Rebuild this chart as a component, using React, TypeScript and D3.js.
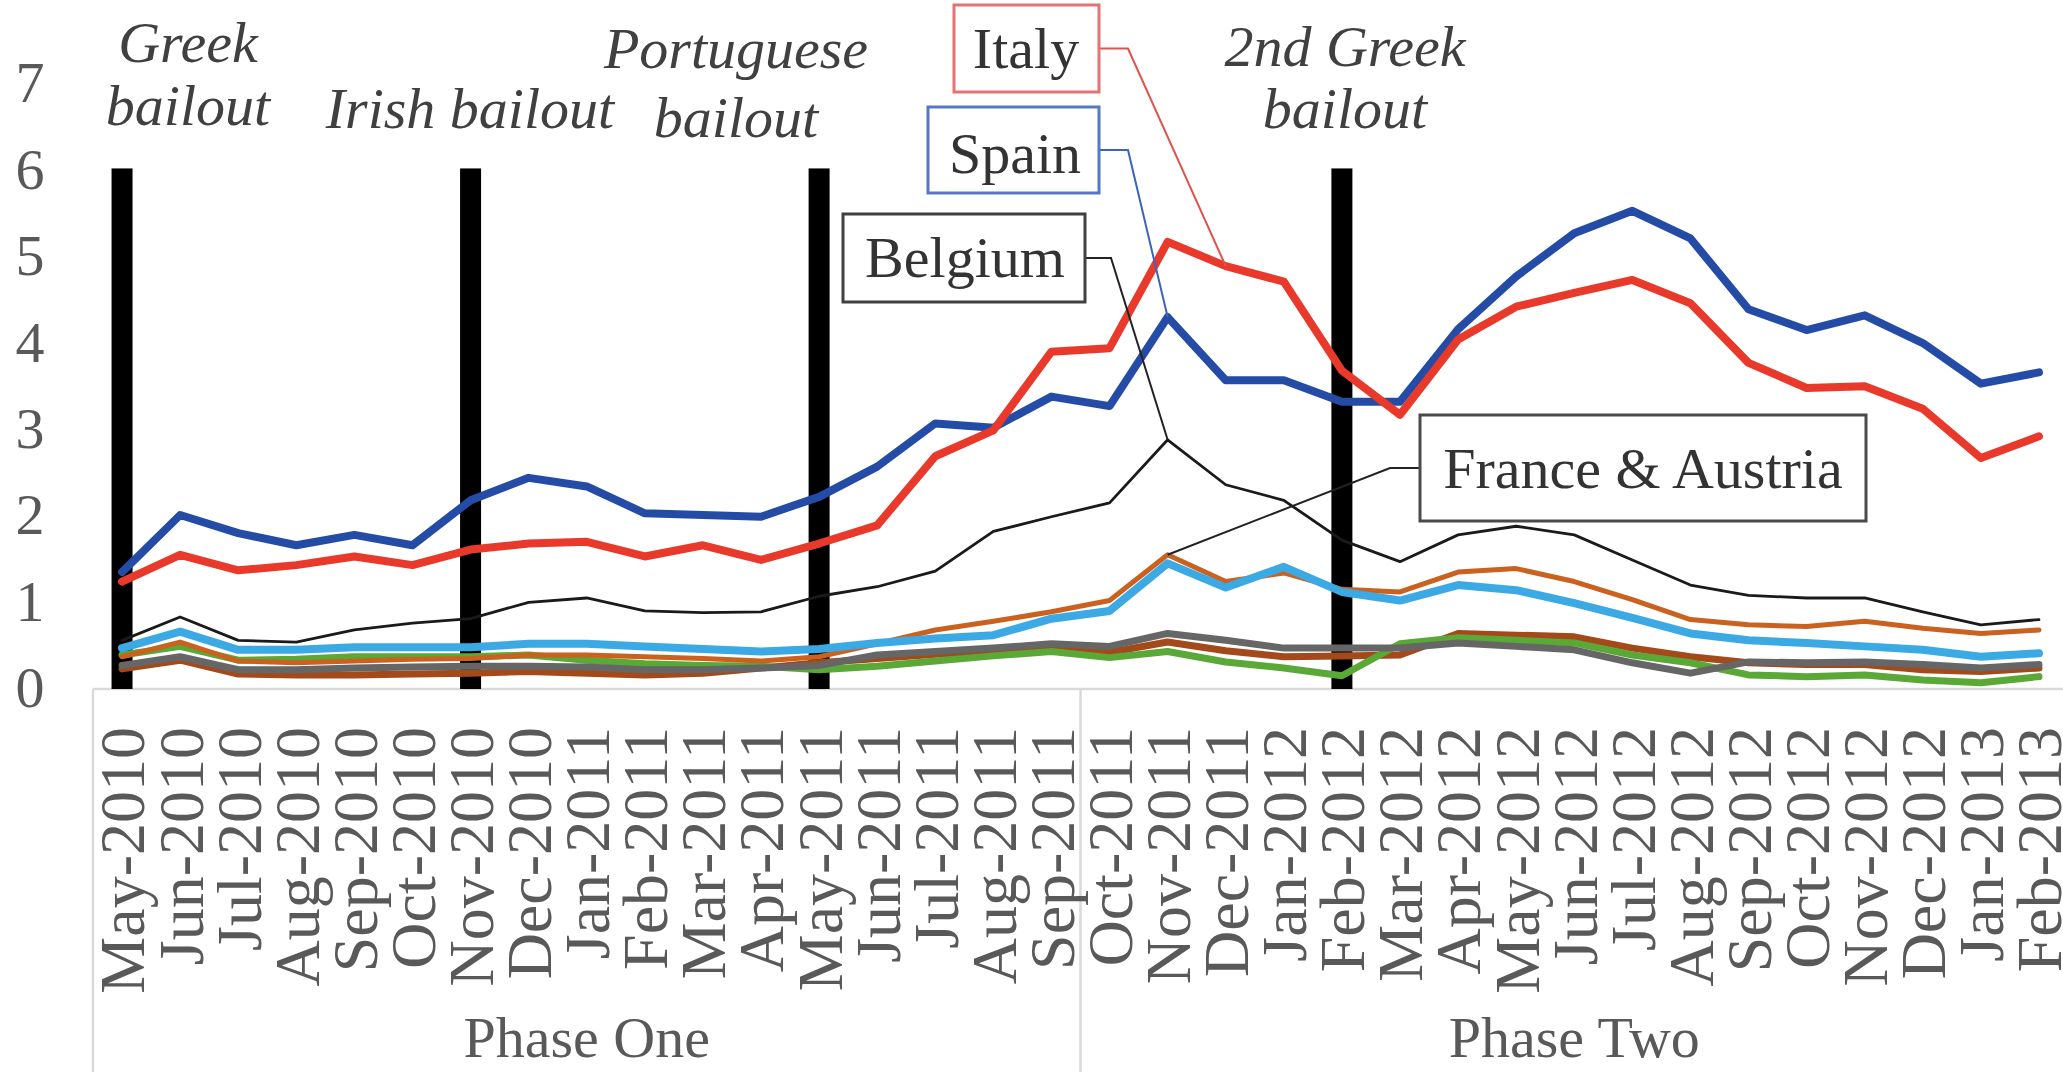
import React from "react";
import * as d3 from "d3";

const categories = [
  "May-2010","Jun-2010","Jul-2010","Aug-2010","Sep-2010","Oct-2010","Nov-2010","Dec-2010",
  "Jan-2011","Feb-2011","Mar-2011","Apr-2011","May-2011","Jun-2011","Jul-2011","Aug-2011","Sep-2011",
  "Oct-2011","Nov-2011","Dec-2011","Jan-2012","Feb-2012","Mar-2012","Apr-2012","May-2012","Jun-2012",
  "Jul-2012","Aug-2012","Sep-2012","Oct-2012","Nov-2012","Dec-2012","Jan-2013","Feb-2013",
];

const phaseNames = ["Phase One", "Phase Two"];
const phaseSizes = [17, 17];

const yTicks = [0, 1, 2, 3, 4, 5, 6, 7];

const spain = [1.33,1.99,1.78,1.64,1.76,1.64,2.16,2.42,2.32,2.01,1.99,1.97,2.2,2.55,3.05,3.0,3.36,3.25,4.28,3.55,3.55,3.3,3.3,4.14,4.75,5.25,5.51,5.19,4.37,4.13,4.3,3.98,3.51,3.64];
const italy = [1.22,1.53,1.35,1.41,1.51,1.41,1.59,1.66,1.68,1.51,1.64,1.47,1.66,1.87,2.67,2.97,3.88,3.92,5.15,4.87,4.69,3.66,3.15,4.02,4.4,4.56,4.71,4.44,3.75,3.46,3.48,3.22,2.65,2.9];
const belgium = [0.54,0.81,0.54,0.52,0.66,0.74,0.79,0.98,1.03,0.88,0.86,0.87,1.05,1.16,1.34,1.8,1.97,2.13,2.86,2.34,2.16,1.7,1.45,1.76,1.86,1.76,1.47,1.18,1.06,1.03,1.03,0.87,0.72,0.78];
const france = [0.35,0.52,0.3,0.28,0.3,0.32,0.33,0.37,0.37,0.35,0.33,0.3,0.35,0.5,0.66,0.76,0.87,1.0,1.53,1.22,1.32,1.13,1.1,1.33,1.37,1.22,1.01,0.78,0.72,0.7,0.76,0.68,0.62,0.66];
const austria = [0.45,0.64,0.43,0.43,0.46,0.46,0.46,0.5,0.5,0.47,0.44,0.41,0.44,0.51,0.56,0.6,0.79,0.88,1.43,1.15,1.39,1.1,1.0,1.18,1.12,0.97,0.8,0.62,0.54,0.51,0.47,0.43,0.35,0.39];
const grey = [0.25,0.35,0.2,0.2,0.22,0.23,0.24,0.24,0.23,0.2,0.2,0.22,0.25,0.37,0.41,0.45,0.5,0.47,0.62,0.54,0.45,0.45,0.45,0.51,0.47,0.43,0.28,0.16,0.29,0.28,0.29,0.26,0.22,0.26];
const green = [0.37,0.47,0.31,0.32,0.35,0.35,0.35,0.37,0.31,0.27,0.25,0.24,0.2,0.24,0.3,0.36,0.41,0.34,0.41,0.29,0.22,0.13,0.5,0.57,0.54,0.51,0.37,0.28,0.14,0.12,0.14,0.08,0.05,0.12];
const brown = [0.21,0.31,0.15,0.14,0.14,0.15,0.16,0.18,0.16,0.14,0.16,0.22,0.28,0.33,0.38,0.42,0.45,0.4,0.52,0.42,0.35,0.36,0.37,0.62,0.6,0.58,0.45,0.35,0.28,0.26,0.26,0.2,0.18,0.22];

const bailoutCats = ["May-2010", "Nov-2010", "May-2011", "Feb-2012"];
const bailoutHeight = 6;
const bailoutLabels = [["Greek", "bailout"], ["Irish bailout"], ["Portuguese", "bailout"], ["2nd Greek", "bailout"]];

const seriesDefs = [
  { name: "Brown", values: brown, color: "#a4491a", width: 7 },
  { name: "Green", values: green, color: "#5aa836", width: 7 },
  { name: "Grey", values: grey, color: "#666666", width: 7 },
  { name: "France", values: france, color: "#cb611f", width: 5 },
  { name: "Austria", values: austria, color: "#3ba9e4", width: 8 },
  { name: "Spain", values: spain, color: "#244ca6", width: 8 },
  { name: "Italy", values: italy, color: "#e8392b", width: 8 },
  { name: "Belgium", values: belgium, color: "#1a1a1a", width: 2.8 },
];

// layout (pixel positions of text/callouts)
const annotLayout = [
  { x: 188, ys: [62, 125] },
  { x: 470, ys: [128] },
  { x: 736, ys: [68, 137] },
  { x: 1345, ys: [66, 128] },
];

const callouts = [
  { label: "Italy", series: italy, cat: "Dec-2011", box: [954, 5, 145, 87], text: [1026, 68], border: "#e57373", leader: "#e0524a", elbowX: 1128, side: "right" },
  { label: "Spain", series: spain, cat: "Nov-2011", box: [928, 107, 171, 86], text: [1015, 173], border: "#5677c4", leader: "#3d63bd", elbowX: 1128, side: "right" },
  { label: "Belgium", series: belgium, cat: "Nov-2011", box: [843, 214, 242, 88], text: [965, 277], border: "#404040", leader: "#222222", elbowX: 1111, side: "right" },
  { label: "France & Austria", series: france, cat: "Nov-2011", box: [1420, 415, 446, 106], text: [1643, 488], border: "#4a4a4a", leader: "#222222", elbowX: 1390, side: "left" },
];

export default function App() {
  const W = 2063, H = 1072;
  const x = d3.scaleBand<string>().domain(categories).range([93, 2068]).paddingInner(0).paddingOuter(0);
  const bw = x.bandwidth();
  const cx = (c: string) => (x(c) as number) + bw / 2;
  const y = d3.scaleLinear().domain([0, 7]).range([687, 82]);
  const line = d3.line<number>().x((_, i) => cx(categories[i])).y((v) => y(v));

  const axisY = 689;
  const serif = "Liberation Serif, Times New Roman, DejaVu Serif, serif";
  const fs = 58;
  const txt = { fontFamily: serif };

  const phaseStarts: number[] = [];
  let acc = 0;
  phaseSizes.forEach((n) => { phaseStarts.push(acc); acc += n; });

  return (
    <svg width={W} height={H} style={{ position: "absolute", left: 0, top: 0, background: "#fff", fontFamily: serif }}>
      <rect x={0} y={0} width={W} height={H} fill="#fff" />
      {yTicks.map((t) => (
        <text key={t} x={30} y={y(t)} dy="0.35em" textAnchor="middle" fontSize={fs} fill="#595959" style={txt}>{t}</text>
      ))}
      <line x1={93} x2={W} y1={axisY} y2={axisY} stroke="#d9d9d9" strokeWidth={2.5} />
      {phaseStarts.map((s, i) => {
        const xl = x(categories[s]) as number;
        return <line key={i} x1={xl} x2={xl} y1={axisY} y2={H} stroke="#d9d9d9" strokeWidth={2.5} />;
      })}
      {categories.map((c) => (
        <text key={c} transform={`translate(${cx(c)},727) rotate(-90)`} dy="0.35em" textAnchor="end" fontSize={64} fill="#595959" style={txt}>{c}</text>
      ))}
      {phaseNames.map((p, i) => {
        const s = phaseStarts[i];
        const e = s + phaseSizes[i] - 1;
        const mid = ((x(categories[s]) as number) + (x(categories[e]) as number) + bw) / 2;
        return <text key={p} x={mid} y={1057} textAnchor="middle" fontSize={fs} fill="#595959" style={txt}>{p}</text>;
      })}
      {bailoutCats.map((c) => (
        <rect key={c} x={cx(c) - 10.5} width={21} y={y(bailoutHeight)} height={axisY - y(bailoutHeight)} fill="#000" />
      ))}
      {seriesDefs.map((s) => (
        <path key={s.name} d={line(s.values) || ""} fill="none" stroke={s.color} strokeWidth={s.width} strokeLinejoin="round" strokeLinecap="round" />
      ))}
      {bailoutLabels.map((lines, i) => (
        <g key={i}>
          {lines.map((t, j) => (
            <text key={j} x={annotLayout[i].x} y={annotLayout[i].ys[j]} textAnchor="middle" fontStyle="italic" fontSize={fs} fill="#404040" style={txt}>{t}</text>
          ))}
        </g>
      ))}
      {callouts.map((co) => {
        const idx = categories.indexOf(co.cat);
        const px = cx(co.cat), py = y(co.series[idx]);
        const [bx, by, bwid, bh] = co.box;
        const my = by + bh / 2;
        const sx = co.side === "right" ? bx + bwid : bx;
        return (
          <g key={co.label}>
            <polyline points={`${sx},${my} ${co.elbowX},${my} ${px},${py}`} fill="none" stroke={co.leader} strokeWidth={2} />
            <rect x={bx} y={by} width={bwid} height={bh} fill="#fff" stroke={co.border} strokeWidth={3} />
            <text x={co.text[0]} y={co.text[1]} textAnchor="middle" fontSize={fs} fill="#333" style={txt}>{co.label}</text>
          </g>
        );
      })}
    </svg>
  );
}
